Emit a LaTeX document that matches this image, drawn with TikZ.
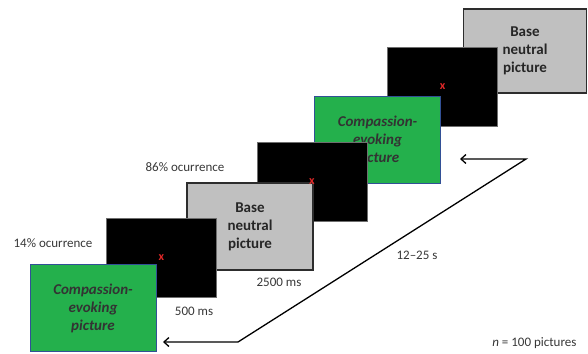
\documentclass[tikz,border=0pt]{standalone}
\usepackage{fontspec}
\setmainfont{Carlito}
\usetikzlibrary{arrows.meta,positioning}
\definecolor{picg}{RGB}{36,176,76}
\definecolor{picb}{RGB}{50,80,150}
\definecolor{basec}{RGB}{192,192,192}
\definecolor{basek}{RGB}{45,45,45}
\definecolor{blnk}{RGB}{110,110,110}
\definecolor{labc}{RGB}{55,55,55}
\definecolor{fixc}{RGB}{225,40,40}
\newcommand{\PW}{126pt}
\newcommand{\PH}{87pt}
\newcommand{\BW}{110pt}
\newcommand{\BH}{79pt}
\newcommand{\basetxt}{Base\\neutral\\picture}
\newcommand{\comptxt}{Compassion-\\evoking\\picture}

\begin{document}
\begin{tikzpicture}[
    x=1pt, y=-1pt,
    base/.style={rectangle, draw=basek, fill=basec, line width=1.4pt,
      minimum width=\PW, minimum height=\PH, align=center, inner sep=0pt,
      font=\fontsize{15}{18}\selectfont\bfseries, text=black!85},
    comp/.style={base, draw=picb, fill=picg, line width=1pt,
      font=\fontsize{15}{18}\selectfont\bfseries\itshape, text=black!80},
    blank/.style={rectangle, draw=blnk, fill=black, line width=0.7pt,
      minimum width=\BW, minimum height=\BH},
    fixcross/.style={font=\fontsize{12}{12}\selectfont\bfseries, text=fixc, inner sep=0pt},
    tag/.style={font=\fontsize{13}{15}\selectfont, text=labc},
    loop/.style={draw=black, line width=1.3pt, {Straight Barb[length=5pt,width=9pt]}-{Straight Barb[length=5pt,width=9pt]}},
  ]
  \useasboundingbox (0,0) rectangle (588,353);

  %% ================= the stimulus sequence, back to front =================
  \node[base, minimum width=123pt, minimum height=84pt] (base2) at (525,51) {\basetxt};
  \node[blank] (blank2) at (442.5,87)   {};
  \node[comp]  (comp2)  at (377.5,140)  {\comptxt};
  \node[blank] (blank1) at (312,181.5)  {};
  \node[base]  (base1)  at (250,226.5)  {\basetxt};
  \node[blank] (blank0) at (161.5,257.5) {};
  \node[comp]  (comp1)  at (93,308)     {\comptxt};

  % fixation cross in the middle of every blank screen
  \foreach \b in {blank0,blank1,blank2} {
    \node[fixcross] (\b x) at (\b.center) {x};
  }

  %% ================= timing and occurrence =================
  \node[tag] (occ14)  at (53,243)  {14\% ocurrence};
  \node[tag] (occ86)  at (185,167) {86\% ocurrence};
  \node[tag] (t500)   at (194,311) {500 ms};
  \node[tag] (t2500)  at (279,282) {2500 ms};
  \node[tag] (titi)   at (417,255) {12--25 s};
  \node[tag, anchor=east] (npics) at (580,343) {\textit{n} = 100 pictures};

  % the loop back to the next compassion-evoking picture
  \coordinate (loopT)   at (460,159);
  \coordinate (loopR)   at (526,159);
  \coordinate (loopL)   at (238,342);
  \coordinate (loopB)   at (163,342);
  \draw[loop] (loopT) -- (loopR) -- (loopL) -- (loopB);

\end{tikzpicture}
\end{document}
